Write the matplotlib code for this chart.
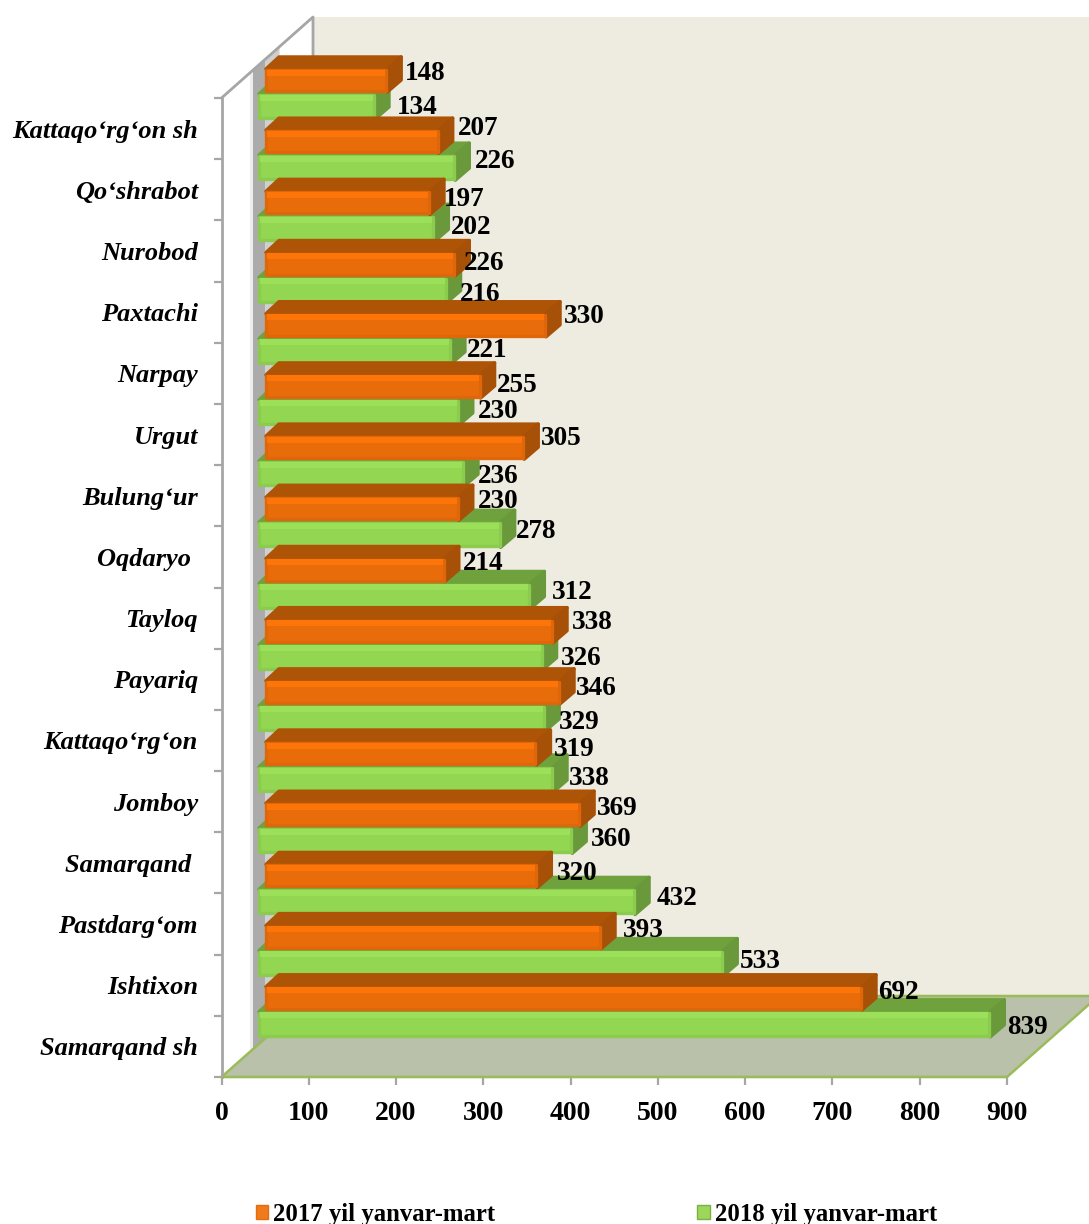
import matplotlib
matplotlib.use('Agg')
import matplotlib.pyplot as plt
from matplotlib.patches import Polygon, Patch

plt.rcParams['font.family'] = ['Liberation Serif', 'DejaVu Serif']
plt.rcParams['font.weight'] = 'bold'

# top to bottom, as on the chart
categories = ['Kattaqo‘rg‘on sh', 'Qo‘shrabot', 'Nurobod', 'Paxtachi', 'Narpay', 'Urgut',
              'Bulung‘ur', 'Oqdaryo\u00a0', 'Tayloq', 'Payariq', 'Kattaqo‘rg‘on', 'Jomboy',
              'Samarqand\u00a0', 'Pastdarg‘om', 'Ishtixon', 'Samarqand sh']
y2017 = [148, 207, 197, 226, 330, 255, 305, 230, 214, 338, 346, 319, 369, 320, 393, 692]
y2018 = [134, 226, 202, 216, 221, 230, 236, 278, 312, 326, 329, 338, 360, 432, 533, 839]
xticks = [0, 100, 200, 300, 400, 500, 600, 700, 800, 900]

# hand placed label nudges (pixels from bar end / bar middle)
gap17_x = [18, 19, 14, 9, 18, 16, 17, 19, 18, 19, 16, 17, 17, 20, 22, 16]
gap17_y = [9.5, 14.7, 4.9, 2.1, 10.3, 2.5, 10.7, 9.4, 8.1, 10.3, 5.5, 5.7, 7.9, 4.1, 8.3, 7.5]
gap18_x = [22, 20, 17, 13.5, 16, 19, 14, 15, 22, 18.5, 14, 16, 19, 22, 17, 17]
gap18_y = [0.5, 7.7, 2.9, -2.9, 2.3, 2.5, -0.8, 4.9, 5.1, 0.3, -2.5, 2.7, 2.9, 5.1, 3.3, -1.5]
label_drop = 2

fig = plt.figure(figsize=(10.89, 12.24), dpi=100)
ax = fig.add_axes([221.5/1089, (1224-1077)/1224, 785.5/1089, 979/1224])
ax.set_xlim(0, 900)
ax.set_ylim(16, 0)
ax.patch.set_visible(False)

# pixels to data units
kx = 900/785.5
ky = 16/979
def px(d):
    return d*kx
def py(d):
    return d*ky

def poly(pts, color, z, edge='none', lw=0):
    ax.add_patch(Polygon(pts, closed=True, facecolor=color, edgecolor=edge, linewidth=lw,
                         zorder=z, clip_on=False, joinstyle='round'))

wall_dx = px(91.5)
wall_dy = py(81)
grey = '#A6A6A6'

# back wall, side wall, floor
poly([(wall_dx, -wall_dy), (900+wall_dx, -wall_dy), (900+wall_dx, 16-wall_dy), (wall_dx, 16-wall_dy)], '#EEEBE0', 1)
poly([(0, 0), (wall_dx, -wall_dy), (wall_dx, 16-wall_dy), (0, 16)], 'white', 1.1)
for x0, x1, c in [(28.5, 31.5, '#EDEDED'), (31.5, 44, '#ABABAB'), (44, 58, '#CFCFCF')]:
    t0 = x0/91.5*81
    t1 = x1/91.5*81
    poly([(px(x0), py(-t0)), (px(x1), py(-t1)), (px(x1), 16-py(t1)), (px(x0), 16-py(t0))], c, 1.2)
poly([(0, 16), (wall_dx, 16-wall_dy), (900+wall_dx, 16-wall_dy), (900, 16)], '#B9C1AB', 1.3, '#9BBB59', 1.8)
ax.plot([0, wall_dx, wall_dx], [0, -wall_dy, py(45)], color=grey, lw=2, zorder=1.25, clip_on=False)

# bar geometry in pixels
base = 36.5
depth_x = 14
depth_y = 12
z = 2

def draw_bar(v, i, left_px, top_px, bottom_px, front, light, topc, side, edge, z):
    left = px(left_px)
    end = px(base) + v
    t = i + py(top_px)
    b = i + py(bottom_px)
    dx = px(depth_x)
    dy = py(depth_y)
    poly([(left+px(1), t), (left+dx, t-dy), (end+dx, t-dy), (end, t)], topc, z, topc, 2.5)
    poly([(end, t), (end+dx, t-dy), (end+dx, b-dy), (end, b)], side, z, side, 2.5)
    # thick same-ish edge with round joins gives the soft corners of the bevel
    ax.barh((t+b)/2, end-left-px(2), height=b-t-py(2), left=left+px(1), color=front, edgecolor=edge,
            linewidth=2.4, joinstyle='round', zorder=z+0.1, clip_on=False)
    ax.barh(t+py(3.5), end-left-px(4), height=py(6), left=left+px(2), color=light, linewidth=0,
            zorder=z+0.2, clip_on=False)

for i in range(len(categories)):
    draw_bar(y2018[i], i, base, -4, 21, '#92D652', '#9CDF58', '#6FA23D', '#69993A', '#8BCB4E', z)
    draw_bar(y2017[i], i, base+7, -29, -6, '#E96C0A', '#FD7508', '#AE5406', '#A65008', '#DF670A', z+0.5)
    ax.annotate(str(y2017[i]), (px(base)+y2017[i], i+py(-17.5)),
                xytext=(gap17_x[i], gap17_y[i]-label_drop), textcoords='offset pixels',
                fontsize=19.6, fontweight='bold', va='center', ha='left', zorder=30, annotation_clip=False)
    ax.annotate(str(y2018[i]), (px(base)+y2018[i], i+py(8.5)),
                xytext=(gap18_x[i], gap18_y[i]-label_drop), textcoords='offset pixels',
                fontsize=19.6, fontweight='bold', va='center', ha='left', zorder=30, annotation_clip=False)
    z += 1

# axes
for s in ['top', 'right']:
    ax.spines[s].set_visible(False)
ax.spines['left'].set_color(grey)
ax.spines['left'].set_linewidth(2)
ax.spines['left'].set_zorder(1.5)
ax.spines['bottom'].set_color('#9BBB59')
ax.spines['bottom'].set_linewidth(1.5)
ax.set_xticks(xticks)
ax.tick_params(axis='x', length=6, width=1.6, color=grey, labelsize=20, pad=11)
ax.set_yticks(range(17))
ax.set_yticklabels([])
ax.set_yticks([i+0.5 for i in range(16)], minor=True)
ax.set_yticklabels(categories, minor=True, fontsize=19, fontstyle='italic', fontweight='bold')
ax.tick_params(axis='y', which='major', length=6, width=1.6, color=grey)
ax.tick_params(axis='y', which='minor', length=0, pad=17)

handles = [Patch(facecolor='#F07A1E', edgecolor='#E96C0A', label='2017 yil yanvar-mart'),
           Patch(facecolor='#9CD65A', edgecolor='#7DB043', label='2018 yil yanvar-mart')]
fig.legend(handles=handles, ncol=2, loc='center', bbox_to_anchor=(596.5/1089, 1-1214.5/1224), frameon=False,
           fontsize=17.8, handlelength=0.52, handleheight=0.52, handletextpad=0.2, columnspacing=8.17,
           borderpad=0, borderaxespad=0)

fig.savefig('out.png', dpi=100)
